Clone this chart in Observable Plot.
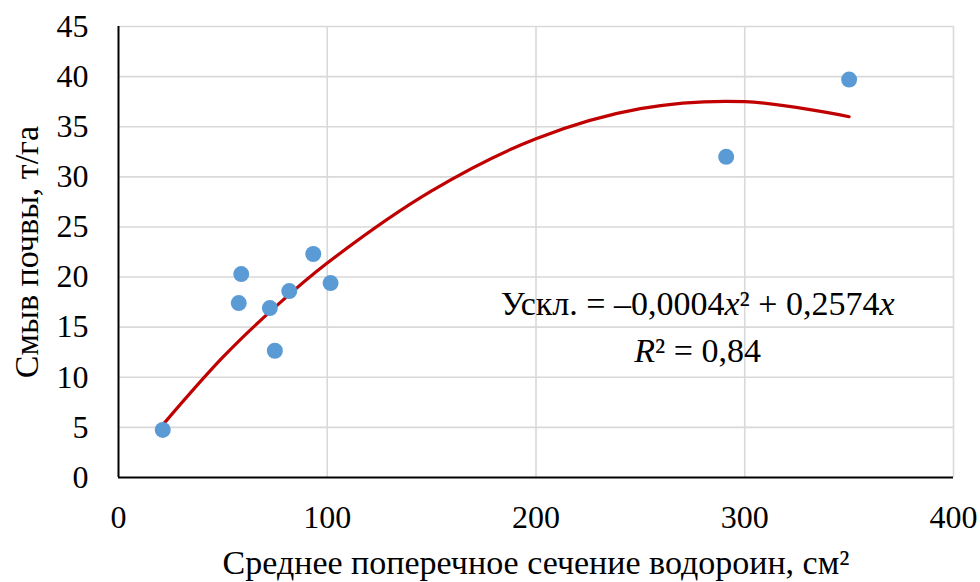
<!DOCTYPE html>
<html>
<head>
<meta charset="utf-8">
<script src="https://cdn.jsdelivr.net/npm/d3@7"></script>
<script src="https://cdn.jsdelivr.net/npm/@observablehq/plot@0.6"></script>
<style>
  html, body { margin: 0; padding: 0; background: #ffffff; }
  #chart { width: 980px; height: 582px; }
</style>
</head>
<body>
<div id="chart"></div>
<script>
// ---- data ----
const xTicks = [0, 100, 200, 300, 400];
const yTicks = [0, 5, 10, 15, 20, 25, 30, 35, 40, 45];

// Среднее поперечное сечение водороин, см² (x) vs Смыв почвы, т/га (y)
const sectionX = [21.2, 57.6, 58.8, 72.5, 74.9, 81.8, 93.3, 101.6, 291.1, 350.0];
const washY    = [4.75, 17.4, 20.3, 16.9, 12.65, 18.6, 22.3, 19.4, 32.0, 39.7];

// polynomial trend line
const trendX = [21, 50, 75, 100, 150, 200, 250, 300, 350];
const trendY = [5.2, 12.0, 17.0, 21.4, 28.6, 33.8, 36.8, 37.5, 36.0];

const xTitle = ["Среднее поперечное сечение водороин, см²"];
const yTitle = ["Смыв почвы, т/га"];
const eqLine = ["Ускл. = –0,0004x² + 0,2574x"];
const r2Line = ["R² = 0,84"];

const points = sectionX.map((x, i) => ({x, y: washY[i]}));
const trend = trendX.map((x, i) => ({x, y: trendY[i]}));

const font = "Liberation Serif";

const chart = Plot.plot({
  width: 980,
  height: 582,
  marginLeft: 118,
  marginRight: 27,
  marginTop: 26,
  marginBottom: 105,
  style: {fontFamily: font, fontSize: "32px", color: "#000", background: "#fff", overflow: "visible"},
  x: {domain: [0, 400], ticks: xTicks, label: null},
  y: {domain: [0, 45], ticks: yTicks, label: null},
  marks: [
    Plot.gridX(xTicks.filter(d => d > 0), {stroke: "#d9d9d9", strokeOpacity: 1, strokeWidth: 1.6}),
    Plot.gridY(yTicks.filter(d => d > 0), {stroke: "#d9d9d9", strokeOpacity: 1, strokeWidth: 1.6}),
    Plot.axisX({ticks: xTicks, tickSize: 0, tickPadding: 28, fontSize: 32, fontFamily: font, fontVariant: "normal", label: null}),
    Plot.axisY({ticks: yTicks, tickSize: 0, tickPadding: 30, fontSize: 32, fontFamily: font, fontVariant: "normal", label: null}),
    Plot.ruleX([0], {stroke: "#000", strokeWidth: 2}),
    Plot.ruleY([0], {stroke: "#000", strokeWidth: 2}),
    Plot.line(trend, {x: "x", y: "y", stroke: "#C00000", strokeWidth: 3.2, curve: "catmull-rom"}),
    Plot.dot(points, {x: "x", y: "y", r: 8, fill: "#5B9BD5", stroke: "none"}),
    Plot.text(eqLine, {x: 277.4, y: 17.34, text: d => d, fontSize: 34, fontFamily: font, textAnchor: "middle", lineAnchor: "middle", fill: "#000"}),
    Plot.text(r2Line, {x: 277.4, y: 12.65, text: d => d, fontSize: 34, fontFamily: font, textAnchor: "middle", lineAnchor: "middle", fill: "#000"}),
    Plot.text(xTitle, {frameAnchor: "bottom", dy: 86, text: d => d, fontSize: 34, fontFamily: font, textAnchor: "middle", lineAnchor: "middle", fill: "#000"}),
    Plot.text(yTitle, {frameAnchor: "left", dx: -91, rotate: -90, text: d => d, fontSize: 34, fontFamily: font, textAnchor: "middle", lineAnchor: "middle", fill: "#000"})
  ]
});

document.getElementById("chart").appendChild(chart);

// force the serif face on every text element (attribute and inline style)
chart.setAttribute("font-family", font);
d3.select(chart).selectAll("g").each(function() {
  if (this.hasAttribute("font-family")) this.setAttribute("font-family", font);
});
d3.select(chart).selectAll("text").each(function() {
  this.setAttribute("font-family", font);
  this.style.fontFamily = font;
});

// italicise the variable letters in the equation labels
const italicize = new Set([eqLine[0], r2Line[0]]);
d3.select(chart).selectAll("text").each(function() {
  const s = this.textContent;
  if (!italicize.has(s)) return;
  const el = d3.select(this);
  el.text(null);
  s.split(/([xR])/).forEach(part => {
    if (!part) return;
    const t = el.append("tspan").text(part).attr("font-family", font);
    if (part === "x" || part === "R") t.attr("font-style", "italic");
  });
});
</script>
</body>
</html>
